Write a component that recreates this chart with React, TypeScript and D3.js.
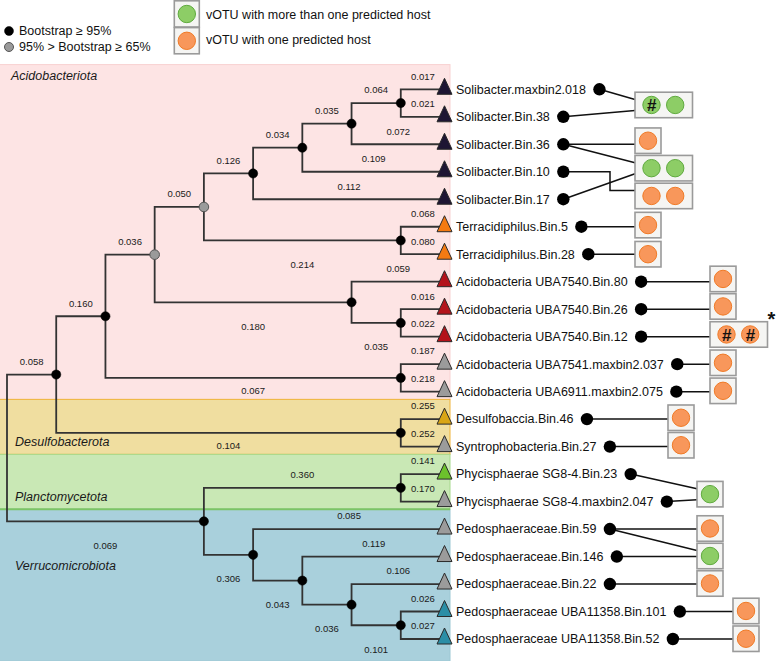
import React, { useMemo } from "react";
import * as d3 from "d3";

// ---------------- DATA ----------------
const leafNames = [
  "Solibacter.maxbin2.018",
  "Solibacter.Bin.38",
  "Solibacter.Bin.36",
  "Solibacter.Bin.10",
  "Solibacter.Bin.17",
  "Terracidiphilus.Bin.5",
  "Terracidiphilus.Bin.28",
  "Acidobacteria UBA7540.Bin.80",
  "Acidobacteria UBA7540.Bin.26",
  "Acidobacteria UBA7540.Bin.12",
  "Acidobacteria UBA7541.maxbin2.037",
  "Acidobacteria UBA6911.maxbin2.075",
  "Desulfobaccia.Bin.46",
  "Syntrophobacteria.Bin.27",
  "Phycisphaerae SG8-4.Bin.23",
  "Phycisphaerae SG8-4.maxbin2.047",
  "Pedosphaeraceae.Bin.59",
  "Pedosphaeraceae.Bin.146",
  "Pedosphaeraceae.Bin.22",
  "Pedosphaeraceae UBA11358.Bin.101",
  "Pedosphaeraceae UBA11358.Bin.52",
];
const leafGroups = [
  "Solibacter", "Solibacter", "Solibacter", "Solibacter", "Solibacter",
  "Terracidiphilus", "Terracidiphilus",
  "UBA7540", "UBA7540", "UBA7540",
  "Other", "Other",
  "Desulfobaccia", "Other",
  "Phycisphaerae", "Other",
  "Other", "Other", "Other",
  "UBA11358", "UBA11358",
];
const leafParents = ["n8", "n8", "n7", "n6", "n5", "t1", "t1", "u1", "u2", "u2", "w1", "w1", "x1", "x1", "p1", "p1", "q1", "q2", "q3", "q4", "q4"];
const leafLengths = [0.017, 0.021, 0.072, 0.109, 0.112, 0.068, 0.080, 0.059, 0.016, 0.022, 0.187, 0.218, 0.255, 0.252, 0.141, 0.170, 0.085, 0.119, 0.106, 0.026, 0.027];

const internalIds = ["root", "n1", "n2", "n3", "n4", "n5", "n6", "n7", "n8", "t1", "u1", "u2", "w1", "x1", "y1", "p1", "q1", "q2", "q3", "q4"];
const internalParents = ["", "root", "n1", "n2", "n3", "n4", "n5", "n6", "n7", "n4", "n3", "u1", "n2", "n1", "root", "y1", "y1", "q1", "q2", "q3"];
const internalLengths = [0, 0.058, 0.160, 0.036, 0.050, 0.126, 0.034, 0.035, 0.064, 0.214, 0.180, 0.035, 0.067, 0.104, 0.069, 0.360, 0.306, 0.043, 0.036, 0.101];
const internalSupport = ["none", "high", "high", "mid", "mid", "high", "high", "high", "high", "high", "high", "high", "high", "high", "high", "high", "high", "high", "high", "high"];

const clades = ["Acidobacteriota", "Desulfobacterota", "Planctomycetota", "Verrucomicrobiota"];
const cladeFirstLeaf = [0, 12, 14, 16];

const boxHosts = [
  ["multi#", "multi"], ["single"], ["multi", "multi"], ["single", "single"],
  ["single"], ["single"], ["single"], ["single"], ["single#", "single#"],
  ["single"], ["single"], ["single"], ["single"], ["multi"],
  ["single"], ["multi"], ["single"], ["single"], ["single"],
];
// [leaf index, host box index]
const hostLinks = [
  [0, 0], [1, 0], [2, 1], [2, 2], [3, 3], [4, 2], [5, 4], [6, 5], [7, 6], [8, 7], [9, 8],
  [10, 9], [11, 10], [12, 11], [13, 12], [14, 13], [15, 13], [16, 14], [16, 15], [17, 15],
  [18, 16], [19, 17], [20, 18],
];
const flaggedBox = [8];

const supportLegend = ["Bootstrap \u2265 95%", "95% > Bootstrap \u2265 65%"];
const hostLegend = ["vOTU with more than one predicted host", "vOTU with one predicted host"];

// ---------------- LAYOUT / STYLE ----------------
const W = 778, H = 661;
const boxRows = [0.57, 1.87, 2.87, 3.88, 4.94, 6.0, 6.9, 7.9, 8.92, 9.95, 10.97, 11.95, 12.95, 14.73, 15.98, 16.98, 17.98, 18.98, 19.99];
const boxLefts = [635, 635, 635, 635, 635, 635, 710, 710, 710, 710, 710, 668, 668, 697, 697, 697, 697, 733, 733];
const elbowLinks: Record<string, number> = { "3-3": 610 };

const triColors: Record<string, string> = {
  Solibacter: "#1e1533",
  Terracidiphilus: "#f47a12",
  UBA7540: "#b3131b",
  Other: "#9b9b9b",
  Desulfobaccia: "#d9a515",
  Phycisphaerae: "#6cc12c",
  UBA11358: "#2b8ea6",
};
const bandStyles = [
  { fill: "#fde4e4", stroke: "#f8d2d2" },
  { fill: "#f0dea0", stroke: "#f0b43a" },
  { fill: "#c9e8b5", stroke: "#a6d98c" },
  { fill: "#a9d0dc", stroke: "#9cc8d4" },
];
const GREEN = { fill: "#8dcd66", stroke: "#5faa3e" };
const ORANGE = { fill: "#f8975b", stroke: "#f07a26" };
const FONT = "'Liberation Sans', Arial, Helvetica, sans-serif";

function measure(text: string, size: number) {
  const c = document.createElement("canvas").getContext("2d")!;
  c.font = `${size}px 'Liberation Sans', Arial, sans-serif`;
  return c.measureText(text).width;
}

export default function App() {
  const yScale = d3.scaleLinear().domain([0, leafNames.length - 1]).range([89.3, 639]);
  const xScale = d3.scaleLinear().domain([0, 9]).range([7, 450]);

  const tree = useMemo(() => {
    const rows = [
      ...internalIds.map((id, i) => ({ id, parent: internalParents[i], len: internalLengths[i], support: internalSupport[i], leaf: -1 })),
      ...leafNames.map((id, i) => ({ id, parent: leafParents[i], len: leafLengths[i], support: "none", leaf: i })),
    ];
    const root = d3.stratify<any>().id((d) => d.id).parentId((d) => d.parent)(rows);
    const minIdx = new Map<any, number>();
    root.eachAfter((n: any) => {
      minIdx.set(n, n.children ? d3.min(n.children, (c: any) => minIdx.get(c)!)! : n.data.leaf);
    });
    root.sort((a: any, b: any) => minIdx.get(a)! - minIdx.get(b)!);
    const pos = new Map<any, { x: number; y: number }>();
    root.eachAfter((n: any) => {
      const level = root.height - n.height;
      const x = n.children ? xScale(level) : xScale(9) - 5;
      const y = n.children ? d3.mean(n.children, (c: any) => pos.get(c)!.y)! : yScale(n.data.leaf);
      pos.set(n, { x, y });
    });
    return { root, pos };
  }, []);

  const bands = clades.map((name, i) => {
    const top = i === 0 ? yScale(-0.9) : yScale(cladeFirstLeaf[i] - 0.5) - 6;
    const bottom = i === clades.length - 1 ? H : yScale(cladeFirstLeaf[i + 1] - 0.5) - 6;
    return { name, top, bottom, i };
  });
  const bandBottomAt = (y: number) => (bands.find((b) => y >= b.top && y < b.bottom) || bands[0]).bottom;

  const { root, pos } = tree;
  const nodes = root.descendants();
  const leafLabelX = 456;
  const dotX = leafNames.map((n) => leafLabelX + measure(n, 12.5) + 13.5);

  const boxes = boxHosts.map((hosts, i) => {
    const cy = yScale(boxRows[i]);
    const w = hosts.length === 1 ? 26 : 57.5;
    return { hosts, x: boxLefts[i], cy, w, h: 25.5, i };
  });

  return (
    <svg width={W} height={H} style={{ position: "absolute", left: 0, top: 0 }} fontFamily={FONT}>
      <rect width={W} height={H} fill="#fff" />
      {/* clade bands */}
      {bands.map((b) => (
        <g key={b.name}>
          <rect x={-1} y={b.top} width={451} height={b.bottom - b.top} fill={bandStyles[b.i].fill} stroke={bandStyles[b.i].stroke} strokeWidth={1} />
        </g>
      ))}
      <line x1={0} x2={450} y1={bands[3].top} y2={bands[3].top} stroke="#7cc466" strokeWidth={2} />
      {bands.map((b) => {
        const y = b.i === 0 ? b.top + 11 : b.i === 3 ? b.top + 56.5 : b.bottom - 12.6;
        return (
          <text key={"l" + b.name} x={b.i === 0 ? 11 : 15} y={y} dy="0.35em" fontSize={12.5} fontStyle="italic" fill="#1a1a1a">
            {b.name}
          </text>
        );
      })}

      {/* branches */}
      {nodes.filter((n: any) => n.parent).map((n: any) => {
        const p = pos.get(n.parent)!;
        const c = pos.get(n)!;
        return <path key={"b" + n.id} d={`M${p.x},${p.y}V${c.y}H${c.x}`} fill="none" stroke="#333" strokeWidth={1.8} />;
      })}
      {/* branch length labels */}
      {nodes.filter((n: any) => n.parent).map((n: any) => {
        const p = pos.get(n.parent)!;
        const c = pos.get(n)!;
        const lowerInternal = n.children && n.parent.children[1] === n;
        const y = lowerInternal ? c.y + Math.min(24, bandBottomAt(c.y) - c.y - 9) : c.y - 13;
        return (
          <text key={"t" + n.id} x={(p.x + c.x) / 2} y={y} dy="0.35em" textAnchor="middle" fontSize={9.5} fill="#1a1a1a">
            {n.data.len.toFixed(3)}
          </text>
        );
      })}
      {/* support dots */}
      {nodes.filter((n: any) => n.children && n.data.support !== "none").map((n: any) => {
        const c = pos.get(n)!;
        const mid = n.data.support === "mid";
        return <circle key={"s" + n.id} cx={c.x} cy={c.y} r={mid ? 4.8 : 4.6} fill={mid ? "#9a9a9a" : "#000"} stroke={mid ? "#555" : "#000"} strokeWidth={mid ? 1 : 0.5} />;
      })}
      {/* tip triangles */}
      {leafNames.map((name, i) => {
        const x = xScale(9) - 5.5;
        const y = yScale(i);
        return (
          <path key={"tri" + i} d={`M${x},${y - 11}L${x + 7.5},${y + 5}L${x - 7.5},${y + 5}Z`} fill={triColors[leafGroups[i]]} stroke="#2a2a2a" strokeWidth={1} />
        );
      })}
      {/* leaf labels */}
      {leafNames.map((name, i) => (
        <text key={"ln" + i} x={leafLabelX} y={yScale(i)} dy="0.35em" fontSize={12.5} fill="#111">
          {name}
        </text>
      ))}
      {/* links */}
      {hostLinks.map(([leaf, bi], k) => {
        const b = boxes[bi];
        const ly = yScale(leaf);
        const ay = b.cy + Math.max(-5.5, Math.min(5.5, ly - b.cy));
        const ex = elbowLinks[`${leaf}-${bi}`];
        const d = ex !== undefined ? `M${dotX[leaf]},${ly}H${ex}V${ay}H${b.x}` : `M${dotX[leaf]},${ly}L${b.x},${ay}`;
        return <path key={"lk" + k} d={d} fill="none" stroke="#111" strokeWidth={1.5} />;
      })}
      {leafNames.map((n, i) => (
        <circle key={"dot" + i} cx={dotX[i]} cy={yScale(i)} r={6.2} fill="#000" />
      ))}
      {/* host boxes */}
      {boxes.map((b) => (
        <g key={"box" + b.i}>
          <rect x={b.x} y={b.cy - b.h / 2} width={b.w} height={b.h} fill="#f5f5f3" stroke="#9a9a9a" strokeWidth={1.6} />
          {b.hosts.map((h, j) => {
            const cx = b.hosts.length === 1 ? b.x + 13 : b.x + 16.5 + j * 23.7;
            const st = h.startsWith("multi") ? GREEN : ORANGE;
            return (
              <g key={j}>
                <circle cx={cx} cy={b.cy} r={8.7} fill={st.fill} stroke={st.stroke} strokeWidth={1} />
                {h.endsWith("#") && (
                  <text x={cx} y={b.cy} dy="0.37em" textAnchor="middle" fontSize={17} fontStyle="italic" fontWeight="bold" fill="#111">
                    #
                  </text>
                )}
              </g>
            );
          })}
          {flaggedBox.includes(b.i) && (
            <text x={b.x + b.w + 4} y={b.cy - 8} textAnchor="middle" fontSize={20} fontWeight="bold" fill="#111">
              *
            </text>
          )}
        </g>
      ))}

      {/* legend */}
      {supportLegend.map((t, i) => (
        <g key={"sl" + i}>
          <circle cx={9} cy={31 + i * 16} r={4.5} fill={i === 0 ? "#000" : "#9a9a9a"} stroke={i === 0 ? "#000" : "#555"} strokeWidth={i === 0 ? 0.5 : 1} />
          <text x={19} y={31 + i * 16} dy="0.35em" fontSize={12.5} fill="#111">{t}</text>
        </g>
      ))}
      {hostLegend.map((t, i) => {
        const st = i === 0 ? GREEN : ORANGE;
        const top = 0.8 + i * 26.8;
        return (
          <g key={"hl" + i}>
            <rect x={174.3} y={top} width={25} height={26.2} fill="#f5f5f3" stroke="#9a9a9a" strokeWidth={1.6} />
            <circle cx={186.8} cy={top + 13.2} r={8.7} fill={st.fill} stroke={st.stroke} strokeWidth={1} />
            <text x={206} y={top + 13.5 - i * 1.5} dy="0.35em" fontSize={12.5} fill="#111">{t}</text>
          </g>
        );
      })}
    </svg>
  );
}
